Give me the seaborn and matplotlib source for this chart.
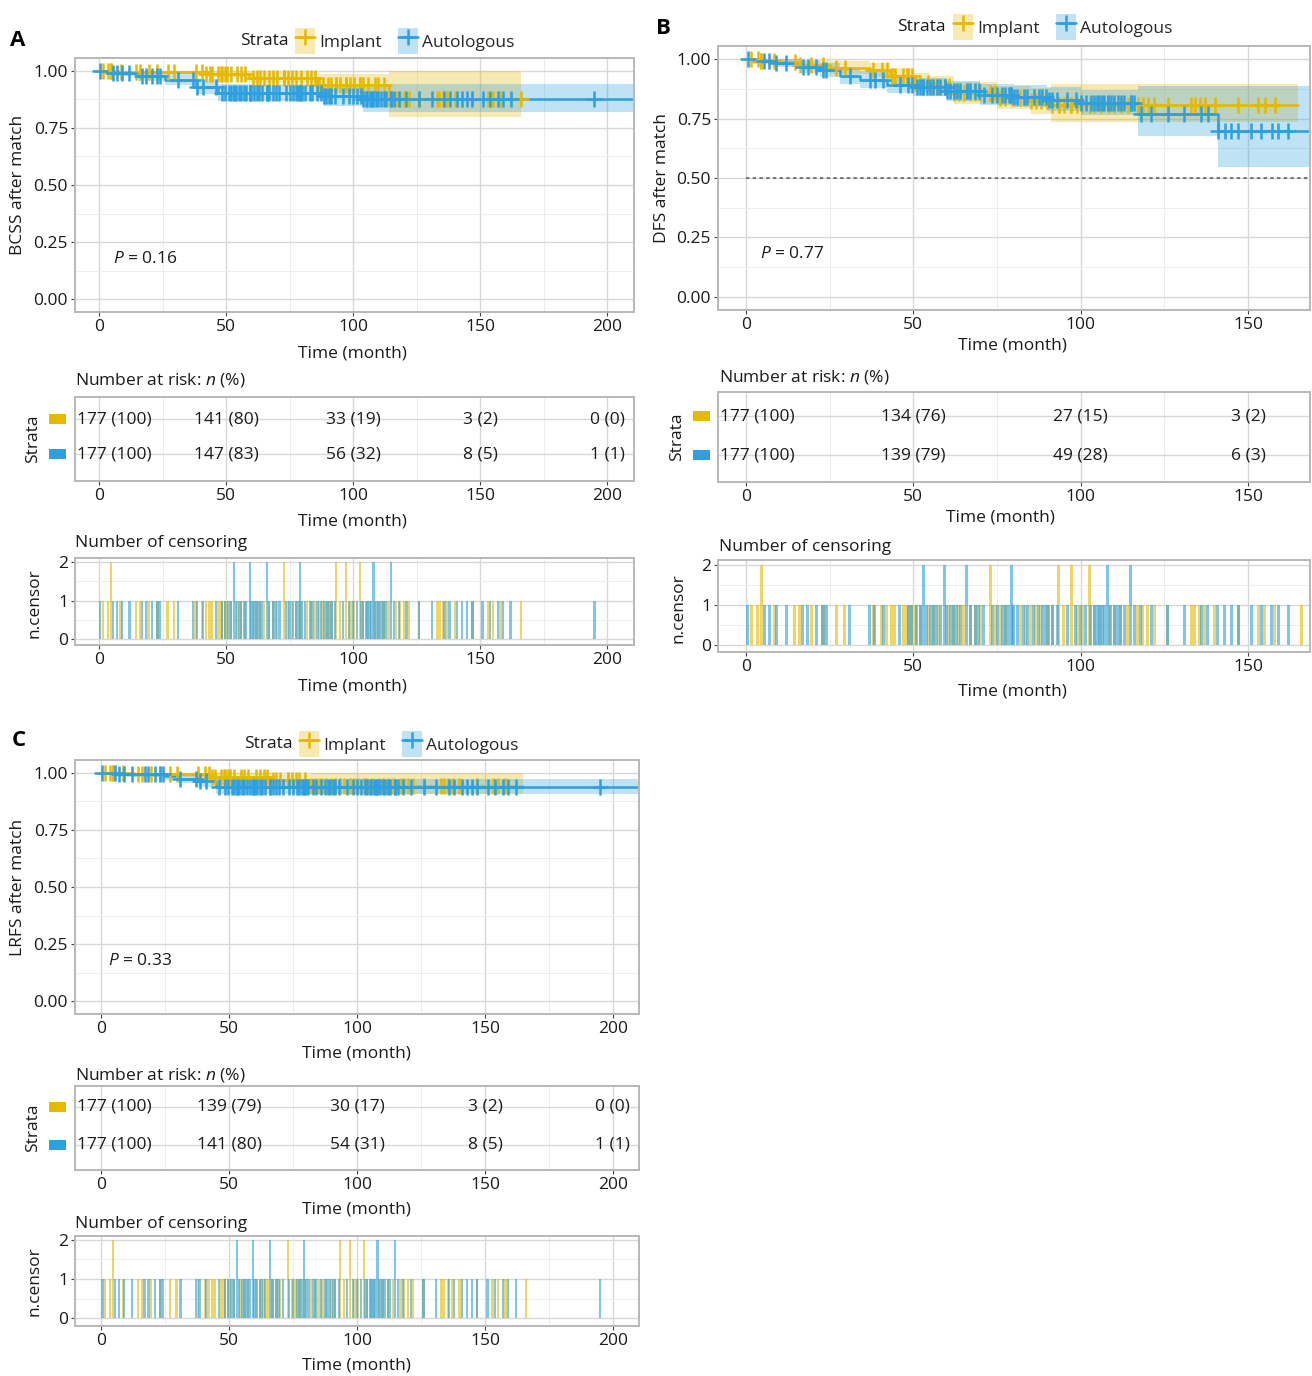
from collections import Counter

import matplotlib.pyplot as plt
import numpy as np
import pandas as pd
import seaborn as sns
from matplotlib.legend_handler import HandlerTuple
from matplotlib.lines import Line2D
from matplotlib.patches import Patch, Rectangle


# --- Data --------------------------------------------------------------------
STRATA = ['Implant', 'Autologous']

# Censoring times (months), shared follow-up; repeated value = 2 censored
censor_implant = [1.5, 3.5, 4.6, 4.6, 8.5, 14.5, 16, 19.5, 23, 27, 29.5, 38, 40.5,
                  42, 43.5, 44.5, 47, 48, 48.5, 49.5, 50.5, 52, 54.5, 56, 57.5,
                  60.5, 62, 63.5, 65, 67, 68.5, 70, 72.9, 72.9, 74.5, 76, 77.5,
                  79.5, 82, 83.5, 85, 86.5, 88, 90, 91.5, 93.4, 93.4, 95, 97.2,
                  97.2, 99, 100.5, 102.7, 102.7, 104, 106, 108.5, 110, 112, 114,
                  117, 118.5, 120, 122, 126, 133, 134, 135.5, 137, 140, 147, 153,
                  155, 158, 166]
censor_auto = [0.5, 5.5, 7, 9, 12, 17, 18.5, 21, 23, 24, 31, 37, 38.5, 41, 46, 48.5,
               49.5, 51, 52, 53, 53, 54, 55, 56, 57, 58, 59.4, 59.4, 60, 61, 62,
               63, 64, 66, 66, 67, 68.5, 69.5, 71, 73.5, 75, 76.5, 77.5, 78.5,
               79.2, 79.2, 80, 81, 83, 84, 86, 87.5, 88.5, 89.5, 90.5, 91.5, 93,
               96, 98.5, 100, 101.5, 103, 104, 105, 105.5, 106.5, 107, 108, 108,
               109, 110, 111, 112, 113, 114.9, 114.9, 116, 118, 121, 126, 131,
               136, 138, 141, 143, 145, 147, 151, 154, 157, 159, 162, 195]

# Panel A: BCSS
a_imp_t = [0, 8, 42, 59, 86, 114]
a_imp_s = [1.0, 0.995, 0.987, 0.968, 0.937, 0.878]
a_imp_lo = [1.0, 0.985, 0.970, 0.945, 0.905, 0.797]
a_imp_hi = [1.0, 1.0, 1.0, 0.995, 0.985, 1.0]
a_imp_end = 166
a_auto_t = [0, 5, 15, 26, 38, 47, 88, 104]
a_auto_s = [1.0, 0.99, 0.975, 0.96, 0.93, 0.903, 0.887, 0.874]
a_auto_lo = [1.0, 0.975, 0.955, 0.935, 0.898, 0.866, 0.847, 0.820]
a_auto_hi = [1.0, 1.0, 0.997, 0.988, 0.965, 0.942, 0.93, 0.943]
a_auto_end = 212
a_risk_times = [0, 50, 100, 150, 200]
a_risk_imp_n = [177, 141, 33, 3, 0]
a_risk_imp_pct = [100, 80, 19, 2, 0]
a_risk_auto_n = [177, 147, 56, 8, 1]
a_risk_auto_pct = [100, 83, 32, 5, 1]

# Panel B: DFS
b_imp_t = [0, 4, 9, 16, 25, 37, 43, 50, 55, 62, 75, 85, 91]
b_imp_s = [1.0, 0.994, 0.986, 0.976, 0.962, 0.953, 0.928, 0.90, 0.886, 0.858, 0.837, 0.822, 0.808]
b_imp_lo = [1.0, 0.982, 0.970, 0.955, 0.936, 0.924, 0.895, 0.862, 0.845, 0.813, 0.789, 0.770, 0.735]
b_imp_hi = [1.0, 1.0, 1.0, 0.998, 0.99, 0.985, 0.963, 0.94, 0.928, 0.905, 0.888, 0.878, 0.895]
b_imp_end = 165
b_auto_t = [0, 2, 8, 16, 22, 28, 34, 42, 50, 60, 70, 80, 90, 100, 117, 141]
b_auto_s = [1.0, 0.993, 0.983, 0.967, 0.953, 0.928, 0.914, 0.893, 0.883, 0.865, 0.851,
            0.842, 0.83, 0.817, 0.768, 0.699]
b_auto_lo = [1.0, 0.98, 0.965, 0.942, 0.925, 0.896, 0.880, 0.857, 0.845, 0.824, 0.808,
             0.797, 0.782, 0.765, 0.678, 0.546]
b_auto_hi = [1.0, 1.0, 1.0, 0.99, 0.982, 0.962, 0.950, 0.932, 0.922, 0.908, 0.896,
             0.89, 0.882, 0.872, 0.886, 0.886]
b_auto_end = 172
b_risk_times = [0, 50, 100, 150]
b_risk_imp_n = [177, 134, 27, 3]
b_risk_imp_pct = [100, 76, 15, 2]
b_risk_auto_n = [177, 139, 49, 6]
b_risk_auto_pct = [100, 79, 28, 3]

# Panel C: LRFS
c_imp_t = [0, 13, 43, 67, 82]
c_imp_s = [1.0, 0.993, 0.982, 0.966, 0.942]
c_imp_lo = [1.0, 0.98, 0.963, 0.94, 0.905]
c_imp_hi = [1.0, 1.0, 1.0, 0.99, 1.0]
c_imp_end = 165
c_auto_t = [0, 6, 25, 30, 38, 45]
c_auto_s = [1.0, 0.993, 0.985, 0.974, 0.962, 0.938]
c_auto_lo = [1.0, 0.98, 0.968, 0.953, 0.938, 0.905]
c_auto_hi = [1.0, 1.0, 1.0, 0.995, 0.986, 0.97]
c_auto_end = 212
c_risk_times = [0, 50, 100, 150, 200]
c_risk_imp_n = [177, 139, 30, 3, 0]
c_risk_imp_pct = [100, 79, 17, 2, 0]
c_risk_auto_n = [177, 141, 54, 8, 1]
c_risk_auto_pct = [100, 80, 31, 5, 1]


# --- Setup -------------------------------------------------------------------
sns.set_theme(style='white')
plt.rcParams['font.family'] = ['Open Sans', 'DejaVu Sans']
plt.rcParams['mathtext.fontset'] = 'custom'
plt.rcParams['mathtext.rm'] = 'Open Sans'
plt.rcParams['mathtext.it'] = 'Open Sans:italic'

IMPLANT = '#E7B800'
AUTO = '#2E9FDF'
COLORS = [IMPLANT, AUTO]
FS = 12.5
TXT = '#1a1a1a'
BORDER = '#B8B8B8'

W, H = 1312, 1376
fig = plt.figure(figsize=(W / 100, H / 100), dpi=100)


def px_axes(l, t, r, b):
    return fig.add_axes([l / W, 1 - b / H, (r - l) / W, (b - t) / H])


def ftext(x, y, s, **kw):
    kw.setdefault('fontsize', FS)
    kw.setdefault('color', TXT)
    kw.setdefault('va', 'center')
    fig.text(x / W, 1 - y / H, s, **kw)


def style_ax(ax, xlim, ylim, xmajor, ymajor, xminor, yminor, ylabels=True):
    ax.set_facecolor('white')
    ax.set_xticks(xmajor)
    ax.set_xticks(xminor, minor=True)
    ax.set_yticks(ymajor)
    ax.set_yticks(yminor, minor=True)
    # limits after ticks so out-of-range ticks do not widen the view
    ax.set_xlim(*xlim)
    ax.set_ylim(*ylim)
    ax.set_axisbelow(True)
    ax.grid(True, which='major', color='#D8D8D8', lw=1.0)
    ax.grid(True, which='minor', color='#EDEDED', lw=0.7)
    for sp in ax.spines.values():
        sp.set_color(BORDER)
        sp.set_linewidth(1.4)
    ax.tick_params(which='major', direction='out', length=3, width=0.8, color='#444444',
                   labelsize=FS, labelcolor=TXT, pad=2, left=True, bottom=True)
    ax.tick_params(which='minor', length=0)
    ax.set_xlabel('')
    ax.set_ylabel('')
    if not ylabels:
        ax.set_yticklabels([])


def step_value(times, surv, at):
    idx = np.searchsorted(np.array(times), np.array(at), side='right') - 1
    return np.array(surv)[idx]


def km_plot(ax, curves, xlim, xmajor, xminor, pval, pval_xy, median_line=False):
    # ribbons first, then lines, then censor marks (ggplot layer order)
    for t, s, lo, hi, end, cens, col in curves:
        ax.fill_between(list(t) + [end], list(lo) + [lo[-1]], list(hi) + [hi[-1]],
                        step='post', color=col, alpha=0.3, lw=0)
    for t, s, lo, hi, end, cens, col in curves:
        df = pd.DataFrame({'time': list(t) + [end], 'surv': list(s) + [s[-1]]})
        sns.lineplot(data=df, x='time', y='surv', color=col, lw=1.8,
                     drawstyle='steps-post', estimator=None, ax=ax)
    for t, s, lo, hi, end, cens, col in curves:
        ct = np.array([c for c in cens if c <= end])
        sns.scatterplot(x=ct, y=step_value(t, s, ct), marker='+', s=130, color=col,
                        linewidth=1.8, ax=ax, zorder=4)
    if median_line:
        ax.plot([0, xlim[1]], [0.5, 0.5], ls=(0, (2.2, 2.2)), color='#555555', lw=1.1)
    style_ax(ax, xlim, (-0.055, 1.055), xmajor, [0, 0.25, 0.5, 0.75, 1.0], xminor,
             [0.125, 0.375, 0.625, 0.875])
    ax.set_yticklabels(['0.00', '0.25', '0.50', '0.75', '1.00'])
    ax.text(pval_xy[0], pval_xy[1], f'$P$ = {pval}', fontsize=FS, color=TXT,
            ha='left', va='center')


def risk_table(ax, xlim, times, imp_n, imp_pct, auto_n, auto_pct, ylim):
    style_ax(ax, xlim, ylim, times, [1, 2], [t + 25 for t in times], [], ylabels=False)
    ax.tick_params(axis='y', length=0)
    for row, ns, pcts in [(2, imp_n, imp_pct), (1, auto_n, auto_pct)]:
        for i, (tm, n, p) in enumerate(zip(times, ns, pcts)):
            label = f'{n} ({p})'
            if i == 0:
                ax.text(0.004, row, label, transform=ax.get_yaxis_transform(),
                        ha='left', va='center', fontsize=FS, color=TXT)
            else:
                ax.text(tm, row, label, ha='center', va='center', fontsize=FS, color=TXT)


def censor_plot(ax, xlim, xmajor, xminor, ylim):
    for cens, col in [(censor_implant, IMPLANT), (censor_auto, AUTO)]:
        cnt = Counter(cens)
        tt = sorted(cnt)
        ax.bar(tt, [cnt[k] for k in tt], width=0.9, color=col, alpha=0.6, lw=0)
    style_ax(ax, xlim, ylim, xmajor, [0, 1, 2], xminor, [0.5, 1.5])


def legend(x, y):
    handles = [(Patch(fc=c, alpha=0.3, lw=0),
                Line2D([], [], color=c, lw=1.8, marker='+', ms=11, mew=1.8))
               for c in COLORS]
    fig.legend(handles, STRATA, loc='center left', bbox_to_anchor=(x / W, 1 - y / H),
               ncol=2, frameon=False, fontsize=FS, handlelength=1.15, handleheight=1.9,
               handletextpad=0.25, columnspacing=0.9, borderaxespad=0, borderpad=0,
               handler_map={tuple: HandlerTuple(ndivide=1)})


def strata_keys(x, y_rows):
    for col, yy in zip(COLORS, y_rows):
        fig.patches.append(Rectangle(((x - 8) / W, 1 - (yy + 5) / H), 17 / W, 10 / H,
                                     transform=fig.transFigure, fc=col, ec='none'))


# --- Panel A -----------------------------------------------------------------
xa = (-9.45, 210.6)
ax = px_axes(75, 58, 634, 312)
km_plot(ax, [(a_imp_t, a_imp_s, a_imp_lo, a_imp_hi, a_imp_end, censor_implant, IMPLANT),
             (a_auto_t, a_auto_s, a_auto_lo, a_auto_hi, a_auto_end, censor_auto, AUTO)],
        xa, [0, 50, 100, 150, 200], [25, 75, 125, 175], '0.16', (5.5, 0.177))
ax = px_axes(75, 397, 634, 481)
risk_table(ax, xa, a_risk_times, a_risk_imp_n, a_risk_imp_pct, a_risk_auto_n,
           a_risk_auto_pct, (0.23, 2.63))
ax = px_axes(75, 558, 634, 645)
censor_plot(ax, xa, [0, 50, 100, 150, 200], [25, 75, 125, 175], (-0.15, 2.1))

ftext(10, 41, 'A', fontsize=16, fontweight='bold', color='black')
ftext(264, 41, 'Strata', ha='center')
legend(295, 41)
ftext(18, 185, 'BCSS after match', rotation=90, ha='center')
ftext(352, 353, 'Time (month)', ha='center')
ftext(75, 380, 'Number at risk: $n$ (%)', ha='left')
ftext(33, 439, 'Strata', rotation=90, ha='center')
strata_keys(57, [419, 454])
ftext(352, 521, 'Time (month)', ha='center')
ftext(75, 543, 'Number of censoring', ha='left')
ftext(35, 603, 'n.censor', rotation=90, ha='center')
ftext(352, 687, 'Time (month)', ha='center')

# --- Panel B -----------------------------------------------------------------
xb = (-8.37, 168.5)
ax = px_axes(718, 46, 1310, 310)
km_plot(ax, [(b_imp_t, b_imp_s, b_imp_lo, b_imp_hi, b_imp_end, censor_implant, IMPLANT),
             (b_auto_t, b_auto_s, b_auto_lo, b_auto_hi, b_auto_end, censor_auto, AUTO)],
        xb, [0, 50, 100, 150], [25, 75, 125], '0.77', (4.2, 0.18), median_line=True)
ax = px_axes(718, 392, 1310, 482)
risk_table(ax, xb, b_risk_times, b_risk_imp_n, b_risk_imp_pct, b_risk_auto_n,
           b_risk_auto_pct, (0.31, 2.615))
ax = px_axes(718, 560, 1310, 652)
censor_plot(ax, xb, [0, 50, 100, 150], [25, 75, 125], (-0.17, 2.12))

ftext(656, 28, 'B', fontsize=16, fontweight='bold', color='black')
ftext(921, 27, 'Strata', ha='center')
legend(953, 27)
ftext(662, 178, 'DFS after match', rotation=90, ha='center')
ftext(1012, 345, 'Time (month)', ha='center')
ftext(719, 377, 'Number at risk: $n$ (%)', ha='left')
ftext(677, 437, 'Strata', rotation=90, ha='center')
strata_keys(701, [416, 455])
ftext(1000, 518, 'Time (month)', ha='center')
ftext(719, 547, 'Number of censoring', ha='left')
ftext(679, 608, 'n.censor', rotation=90, ha='center')
ftext(1012, 692, 'Time (month)', ha='center')

# --- Panel C -----------------------------------------------------------------
xc = (-10.2, 210.2)
ax = px_axes(75, 760, 639, 1014)
km_plot(ax, [(c_imp_t, c_imp_s, c_imp_lo, c_imp_hi, c_imp_end, censor_implant, IMPLANT),
             (c_auto_t, c_auto_s, c_auto_lo, c_auto_hi, c_auto_end, censor_auto, AUTO)],
        xc, [0, 50, 100, 150, 200], [25, 75, 125, 175], '0.33', (2.7, 0.175))
ax = px_axes(75, 1086, 639, 1170)
risk_table(ax, xc, c_risk_times, c_risk_imp_n, c_risk_imp_pct, c_risk_auto_n,
           c_risk_auto_pct, (0.34, 2.55))
ax = px_axes(75, 1236, 639, 1326)
censor_plot(ax, xc, [0, 50, 100, 150, 200], [25, 75, 125, 175], (-0.2, 2.1))

ftext(12, 741, 'C', fontsize=16, fontweight='bold', color='black')
ftext(268, 744, 'Strata', ha='center')
legend(299, 744)
ftext(18, 887, 'LRFS after match', rotation=90, ha='center')
ftext(356, 1054, 'Time (month)', ha='center')
ftext(75, 1075, 'Number at risk: $n$ (%)', ha='left')
ftext(33, 1128, 'Strata', rotation=90, ha='center')
strata_keys(57, [1107, 1145])
ftext(356, 1210, 'Time (month)', ha='center')
ftext(75, 1224, 'Number of censoring', ha='left')
ftext(35, 1281, 'n.censor', rotation=90, ha='center')
ftext(356, 1365, 'Time (month)', ha='center')

fig.savefig('out.png', dpi=100, facecolor='white')
plt.close(fig)
